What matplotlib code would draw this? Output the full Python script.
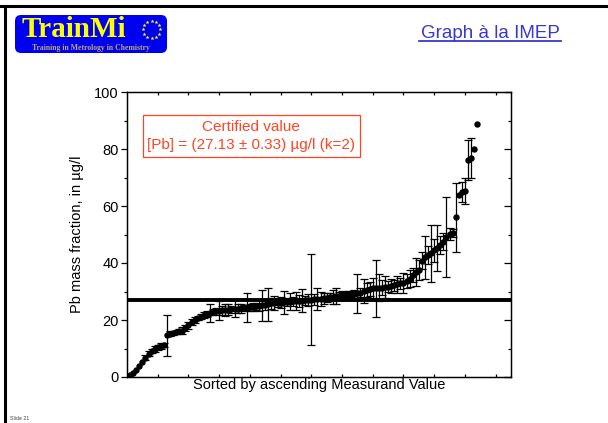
import numpy as np
import matplotlib
matplotlib.use("Agg")
import matplotlib.pyplot as plt
from matplotlib.patches import FancyBboxPatch
from matplotlib.lines import Line2D

plt.rcParams['font.family'] = ['Liberation Sans', 'DejaVu Sans']

# Lab results, sorted by ascending value (µg/l) and their expanded uncertainties
pb_values = [
    0.6, 1.4, 2.3, 3.8, 5.2, 6.8, 8.2, 9.2, 9.8, 10.4,
    11.0, 11.3, 14.6, 15.2, 15.5, 15.7, 16.0, 16.3, 17.2, 18.1,
    19.2, 20.1, 20.7, 21.2, 21.7, 22.1, 22.5, 22.8, 23.1, 23.3,
    23.4, 23.5, 23.6, 23.8, 23.9, 24.0, 24.1, 24.2, 24.3, 24.4,
    24.6, 24.8, 25.0, 25.2, 25.4, 25.6, 25.8, 25.9, 26.0, 26.1,
    26.2, 26.3, 26.4, 26.5, 26.6, 26.7, 26.8, 26.9, 27.0, 27.1,
    27.2, 27.3, 27.5, 27.6, 27.8, 28.0, 28.1, 28.3, 28.4, 28.6,
    28.8, 28.9, 29.1, 29.2, 29.4, 29.6, 30.1, 30.5, 30.9, 31.1,
    31.2, 31.3, 31.4, 31.6, 31.7, 31.9, 32.2, 32.6, 32.9, 33.1,
    33.7, 34.5, 35.8, 36.9, 37.5, 40.8, 42.0, 42.8, 43.4, 44.4,
    45.3, 46.3, 47.4, 49.0, 50.2, 50.6, 56.0, 63.8, 64.9, 65.3,
    76.0, 77.0, 80.0, 88.8,
]
pb_uncert = [
    0, 0, 0, 0, 0, 0.8, 0.8, 0.8, 1.0, 1.0,
    1.0, 0.8, 7.2, 0.8, 0.6, 0.6, 0.8, 1.3, 1.0, 1.2,
    1.0, 1.0, 0.8, 0.8, 1.0, 1.2, 3.2, 1.0, 1.2, 3.4,
    1.5, 2.0, 2.0, 1.2, 3.0, 1.5, 1.5, 1.2, 5.0, 1.2,
    1.5, 1.2, 2.0, 5.5, 2.0, 5.8, 2.0, 2.5, 1.5, 2.0,
    4.0, 1.5, 3.0, 1.5, 3.2, 2.0, 4.0, 1.5, 2.0, 16.0,
    2.0, 3.8, 2.5, 2.0, 1.5, 1.5, 2.6, 2.8, 1.5, 1.5,
    1.2, 1.2, 1.2, 1.5, 6.9, 1.5, 4.3, 2.5, 2.5, 3.5,
    10.0, 4.8, 2.5, 4.0, 2.0, 2.5, 2.0, 3.0, 2.0, 3.5,
    2.5, 3.0, 2.5, 5.0, 3.5, 3.0, 7.6, 3.0, 10.0, 4.0,
    8.0, 3.0, 3.0, 14.0, 2.0, 1.5, 12.0, 0, 3.5, 4.7,
    7.0, 7.0, 0, 0,
]
certified_value = 27.13
y_ticks = [0, 20, 40, 60, 80, 100]

vals = np.array(pb_values)
errs = np.array(pb_uncert)
rank = np.arange(1, len(vals) + 1)

fig = plt.figure(figsize=(6.08, 4.23), dpi=100)

# Slide frame
fig.add_artist(Line2D([0, 1], [1 - 6 / 423, 1 - 6 / 423], color='black', lw=2.2,
                      transform=fig.transFigure))
fig.add_artist(Line2D([4.5 / 608, 4.5 / 608], [0, 1 - 6 / 423], color='black', lw=2.2,
                      transform=fig.transFigure))

# Logo (drawn in a pixel-coordinate overlay axes)
logo_ax = fig.add_axes([0, 0, 1, 1], facecolor='none', zorder=3)
logo_ax.set_xlim(0, 608)
logo_ax.set_ylim(423, 0)
logo_ax.axis('off')
logo_ax.add_patch(FancyBboxPatch((15, 15), 152, 38,
                                 boxstyle="round,pad=0,rounding_size=6",
                                 facecolor='#0000F0', edgecolor='none'))
logo_ax.text(22, 37, "TrainMi", family='Liberation Serif', weight='bold',
             color='#FFFF00', fontsize=21, va='baseline', ha='left')
ang = np.linspace(0, 2 * np.pi, 12, endpoint=False)
cx, cy, r = 151.5, 29.5, 8.5
logo_ax.scatter(cx + r * np.cos(ang), cy + r * np.sin(ang), marker='*', s=9,
                color='#FFFF00', linewidths=0)
logo_ax.text(91, 50, "Training in Metrology in Chemistry",
             family='Liberation Serif', weight='bold', color='#B8A878', fontsize=5.6,
             ha='center', va='baseline')

# Slide title
fig.text(490 / 608, 1 - 38 / 423, "Graph à la IMEP", color='#3838D0',
         fontsize=13.5, ha='center', va='baseline')
fig.add_artist(Line2D([419 / 608, 561 / 608], [1 - 41 / 423, 1 - 41 / 423],
                      color='#3838D0', lw=1.3, transform=fig.transFigure))
fig.text(10 / 608, 2 / 423, "Slide 21", fontsize=3.8, color='#444444',
         ha='left', va='bottom')

# Main chart
ax = fig.add_axes([127 / 608, 1 - 377 / 423, 384 / 608, 285 / 423])
ax.set_xlim(0, 125)
ax.set_ylim(0, 100)

ax.axhline(certified_value, color='black', lw=2.8, zorder=1)

has_err = errs > 0
ax.errorbar(rank[has_err], vals[has_err], yerr=errs[has_err], fmt='none',
            ecolor='black', elinewidth=0.9, capsize=2.8, capthick=0.9, zorder=2)
ax.plot(rank, vals, 'o', color='black', markersize=3.6, zorder=3)

ax.set_yticks(y_ticks)
ax.set_yticks(np.arange(10, 100, 20), minor=True)
ax.set_xticks(np.arange(10, 125, 10))
ax.set_xticklabels([])
ax.tick_params(axis='y', which='major', direction='out', length=4, width=0.9,
               labelsize=10.5, pad=2)
ax.tick_params(axis='y', which='minor', direction='out', length=2.5, width=0.9)
ax.tick_params(axis='x', which='major', direction='in', length=2.5, width=0.9,
               top=True)
for s in ax.spines.values():
    s.set_linewidth(1.0)

right = ax.twinx()
right.set_ylim(0, 100)
right.set_yticks(y_ticks)
right.set_yticks(np.arange(10, 100, 20), minor=True)
right.set_yticklabels([])
right.tick_params(axis='y', which='major', direction='in', length=5, width=0.9)
right.tick_params(axis='y', which='minor', direction='in', length=2.5, width=0.9)

ax.set_ylabel("Pb mass fraction, in µg/l", fontsize=10.5, labelpad=7)
ax.set_xlabel("Sorted by ascending Measurand Value", fontsize=10.5, labelpad=-3)

ax.text(40.5, 84.6, "Certified value\n[Pb] = (27.13 ± 0.33) µg/l (k=2)",
        color='#FF4422', fontsize=11, ha='center', va='center', linespacing=1.4,
        bbox=dict(boxstyle='square,pad=0.3', facecolor='white', edgecolor='#FF4422',
                  linewidth=0.9), zorder=5)

fig.savefig("out.png", dpi=100)
